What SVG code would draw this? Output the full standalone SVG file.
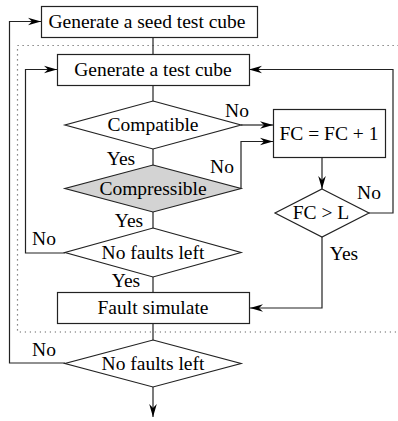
<svg xmlns="http://www.w3.org/2000/svg" width="398" height="421" viewBox="0 0 398 421">
<defs>
<marker id="arr" markerUnits="userSpaceOnUse" markerWidth="14" markerHeight="10" viewBox="-13 -5 14 10" refX="0" refY="0" orient="auto">
<path d="M0,0 L-13,-3.8 L-9,0 L-13,3.8 Z" fill="#000"/>
</marker>
</defs>
<style>
.box{fill:#fff;stroke:#222;stroke-width:1.2}
.gray{fill:#d3d3d3;stroke:#222;stroke-width:1.2}
.ln{fill:none;stroke:#222;stroke-width:1.2}
.dot{fill:none;stroke:#666;stroke-width:1.2;stroke-dasharray:1.2 3.8}
text{font-family:"Liberation Serif","Times New Roman","DejaVu Serif",serif;font-size:19.5px;fill:#000}
.c{text-anchor:middle}
</style>
<rect class="dot" x="17.5" y="45.5" width="386" height="286.5"/>
<g id="connectors">
<path class="ln" d="M153,37 V54"/>
<path class="ln" d="M153,85 V101"/>
<path class="ln" d="M153,149 V165"/>
<path class="ln" d="M153,212 V228"/>
<path class="ln" d="M153,277 V292"/>
<path class="ln" d="M153,323 V340"/>
<path class="ln" d="M153,387 V417" marker-end="url(#arr)"/>
<path class="ln" d="M241,125 H273" marker-end="url(#arr)"/>
<path class="ln" d="M241,188 V141.5 H273" marker-end="url(#arr)"/>
<path class="ln" d="M322,157 V189" marker-end="url(#arr)"/>
<path class="ln" d="M369,213 H393 V69.5 H249" marker-end="url(#arr)"/>
<path class="ln" d="M322,237 V308 H250" marker-end="url(#arr)"/>
<path class="ln" d="M65,253 H25.5 V69.5 H57" marker-end="url(#arr)"/>
<path class="ln" d="M65,363 H9.5 V21.5 H41" marker-end="url(#arr)"/>
<text x="237" y="117" class="c">No</text>
<text x="121" y="165" class="c">Yes</text>
<text x="222" y="173" class="c">No</text>
<text x="129" y="227" class="c">Yes</text>
<text x="44" y="245" class="c">No</text>
<text x="126" y="287" class="c">Yes</text>
<text x="369" y="199" class="c">No</text>
<text x="344" y="260" class="c">Yes</text>
<text x="44" y="356" class="c">No</text>
</g>
<g id="seed">
<rect class="box" x="41.5" y="6.5" width="216" height="31"/>
<text x="147" y="28" class="c">Generate a seed test cube</text>
</g>
<g id="gen">
<rect class="box" x="57.5" y="54.5" width="192" height="31"/>
<text x="153" y="76" class="c">Generate a test cube</text>
</g>
<g id="compatible">
<polygon class="box" points="153,101 241,125 153,149 65,125"/>
<text x="153" y="131" class="c">Compatible</text>
</g>
<g id="compressible">
<polygon class="gray" points="153,165 241,188.5 153,212 65,188.5"/>
<text x="153" y="195" class="c">Compressible</text>
</g>
<g id="nfl1">
<polygon class="box" points="153,228 241,252.5 153,277 65,252.5"/>
<text x="153" y="259" class="c">No faults left</text>
</g>
<g id="fsim">
<rect class="box" x="57.5" y="292.5" width="192" height="31"/>
<text x="153" y="314" class="c">Fault simulate</text>
</g>
<g id="nfl2">
<polygon class="box" points="153,340 241,363.5 153,387 65,363.5"/>
<text x="153" y="370" class="c">No faults left</text>
</g>
<g id="fc">
<rect class="box" x="273.5" y="109.5" width="112" height="48"/>
<text x="329" y="140" class="c">FC = FC + 1</text>
</g>
<g id="fcl">
<polygon class="box" points="322,189 369,213 322,237 275,213"/>
<text x="321" y="219" class="c">FC &gt; L</text>
</g>
</svg>
